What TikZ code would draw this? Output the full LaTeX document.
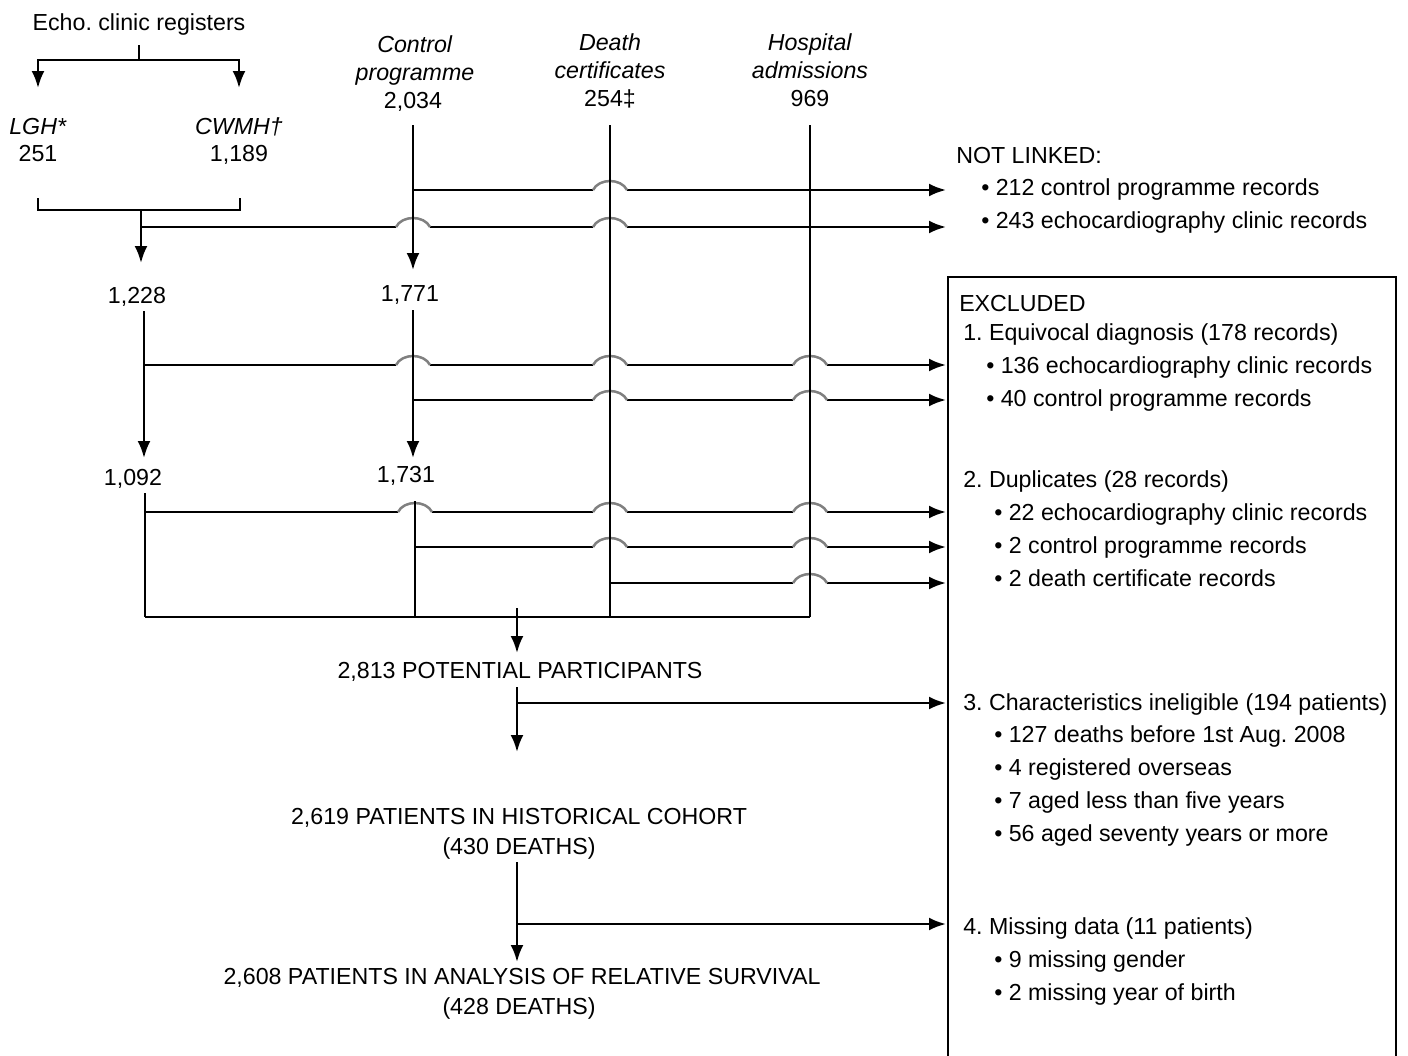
\documentclass[tikz,border=0pt]{standalone}
\usepackage{fontspec}
\setmainfont{Liberation Sans}
\usetikzlibrary{arrows.meta}
\frenchspacing

% gap plus grey bridge where a branch crosses a vertical line
\newcommand{\linehop}[2]{%
  \fill[white] (#1-17,#2-3) rectangle (#1+17,#2+3);
  \draw[hopline] (#1-17,#2) .. controls (#1-11,#2-12) and (#1+11,#2-12) .. (#1+17,#2);}

\begin{document}
\begin{tikzpicture}[x=0.5pt,y=-0.5pt,line width=1.25pt,
  arr/.style={-{Latex[length=8.5pt,width=6.5pt]}},
  hopline/.style={draw=black!50},
  lab/.style={anchor=base,inner sep=0pt,font=\fontsize{11.6}{14}\selectfont},
  item/.style={lab,anchor=base west}]
\useasboundingbox (0,0) rectangle (1408,1055);

% Sources
\node[lab] (echo) at (139,30) {Echo. clinic registers};
\node[lab] (lgh) at (38,134) {\textit{LGH*}};
\node[lab] (n251) at (38,161) {251};
\node[lab] (cwmh) at (239,134) {\textit{CWMH†}};
\node[lab] (n1189) at (239,161) {1,189};
\node[lab] (ctrlA) at (415,52) {\textit{Control}};
\node[lab] (ctrlB) at (415,80) {\textit{programme}};
\node[lab] (n2034) at (413,108) {2,034};
\node[lab] (deathA) at (610,50) {\textit{Death}};
\node[lab] (deathB) at (610,78) {\textit{certificates}};
\node[lab] (n254) at (610,106) {254‡};
\node[lab] (hospA) at (810,50) {\textit{Hospital}};
\node[lab] (hospB) at (810,78) {\textit{admissions}};
\node[lab] (n969) at (810,106) {969};

% Counts along the way
\node[lab] (n1228) at (137,303) {1,228};
\node[lab] (n1771) at (410,301) {1,771};
\node[lab] (n1092) at (133,485) {1,092};
\node[lab] (n1731) at (406,482) {1,731};
\node[lab] (pot) at (520,678) {2,813 POTENTIAL PARTICIPANTS};
\node[lab] (hist) at (519,824) {2,619 PATIENTS IN HISTORICAL COHORT};
\node[lab] (histd) at (519,854) {(430 DEATHS)};
\node[lab] (surv) at (522,984) {2,608 PATIENTS IN ANALYSIS OF RELATIVE SURVIVAL};
\node[lab] (survd) at (519,1014) {(428 DEATHS)};

% Not linked
\node[item] (nl) at (955,163) {NOT LINKED:};
\node[item] (nl1) at (980,195) {• 212 control programme records};
\node[item] (nl2) at (980,228) {• 243 echocardiography clinic records};

% Excluded box
\draw (948,1056) -- (948,277) -- (1396,277) -- (1396,1056);
\node[item] (exc) at (958,311) {EXCLUDED};
\node[item] (ex1) at (962,340) {1. Equivocal diagnosis (178 records)};
\node[item] (ex1a) at (985,373) {• 136 echocardiography clinic records};
\node[item] (ex1b) at (985,406) {• 40 control programme records};
\node[item] (ex2) at (962,487) {2. Duplicates (28 records)};
\node[item] (ex2a) at (993,520) {• 22 echocardiography clinic records};
\node[item] (ex2b) at (993,553) {• 2 control programme records};
\node[item] (ex2c) at (993,586) {• 2 death certificate records};
\node[item] (ex3) at (962,710) {3. Characteristics ineligible (194 patients)};
\node[item] (ex3a) at (993,742) {• 127 deaths before 1st Aug. 2008};
\node[item] (ex3b) at (993,775) {• 4 registered overseas};
\node[item] (ex3c) at (993,808) {• 7 aged less than five years};
\node[item] (ex3d) at (993,841) {• 56 aged seventy years or more};
\node[item] (ex4) at (962,934) {4. Missing data (11 patients)};
\node[item] (ex4a) at (993,967) {• 9 missing gender};
\node[item] (ex4b) at (993,1000) {• 2 missing year of birth};

% Junction points
\coordinate (boxW) at (946,0);
\coordinate (eStem) at (139,45);
\coordinate (eSplit) at (139,60);
\coordinate (lghIn) at (38,88);
\coordinate (cwmhIn) at (239,88);
\coordinate (lghOut) at (38,198);
\coordinate (cwmhOut) at (240,198);
\coordinate (eMerge) at (141,210);
\coordinate (eNL) at (141,227);
\coordinate (e1228In) at (141,263);
\coordinate (cTop) at (413,125);
\coordinate (cNL) at (413,190);
\coordinate (c1771In) at (413,270);
\coordinate (dTop) at (610,125);
\coordinate (dDup) at (610,583);
\coordinate (dBot) at (610,617);
\coordinate (hTop) at (810,125);
\coordinate (hBot) at (810,617);
\coordinate (e1228Out) at (144,311);
\coordinate (eEq) at (144,365);
\coordinate (e1092In) at (144,458);
\coordinate (c1771Out) at (413,310);
\coordinate (cEq) at (413,400);
\coordinate (c1731In) at (413,458);
\coordinate (e1092Out) at (145,493);
\coordinate (eDup) at (145,512);
\coordinate (eBot) at (145,617);
\coordinate (c1731Out) at (415,501);
\coordinate (cDup) at (415,547);
\coordinate (cBot) at (415,617);
\coordinate (potTop) at (517,608);
\coordinate (potIn) at (517,653);
\coordinate (potOut) at (517,687);
\coordinate (potEx) at (517,703);
\coordinate (histIn) at (517,752);
\coordinate (histOut) at (517,862);
\coordinate (histEx) at (517,924);
\coordinate (survIn) at (517,962);

% Registers split and merge
\draw (eStem) -- (eSplit);
\draw[arr] (eSplit) -| (lghIn);
\draw[arr] (eSplit) -| (cwmhIn);
\draw (lghOut) |- (eMerge) -| (cwmhOut);
\draw[arr] (eMerge) -- (e1228In);

% Branches to the right
\draw[arr] (cNL) -- (cNL -| boxW);
\draw[arr] (eNL) -- (eNL -| boxW);
\draw[arr] (eEq) -- (eEq -| boxW);
\draw[arr] (cEq) -- (cEq -| boxW);
\draw[arr] (eDup) -- (eDup -| boxW);
\draw[arr] (cDup) -- (cDup -| boxW);
\draw[arr] (dDup) -- (dDup -| boxW);
\draw[arr] (potEx) -- (potEx -| boxW);
\draw[arr] (histEx) -- (histEx -| boxW);
\draw (eBot) -- (hBot);

% Line hops
\linehop{610}{190}
\linehop{413}{227} \linehop{610}{227}
\linehop{413}{365} \linehop{610}{365} \linehop{810}{365}
\linehop{610}{400} \linehop{810}{400}
\linehop{415}{512} \linehop{610}{512} \linehop{810}{512}
\linehop{610}{547} \linehop{810}{547}
\linehop{810}{583}

% Vertical flows
\draw[arr] (cTop) -- (c1771In);
\draw (dTop) -- (dBot);
\draw (hTop) -- (hBot);
\draw[arr] (e1228Out) -- (e1092In);
\draw[arr] (c1771Out) -- (c1731In);
\draw (e1092Out) -- (eBot);
\draw (c1731Out) -- (cBot);
\draw[arr] (potTop) -- (potIn);
\draw[arr] (potOut) -- (histIn);
\draw[arr] (histOut) -- (survIn);
\end{tikzpicture}
\end{document}
